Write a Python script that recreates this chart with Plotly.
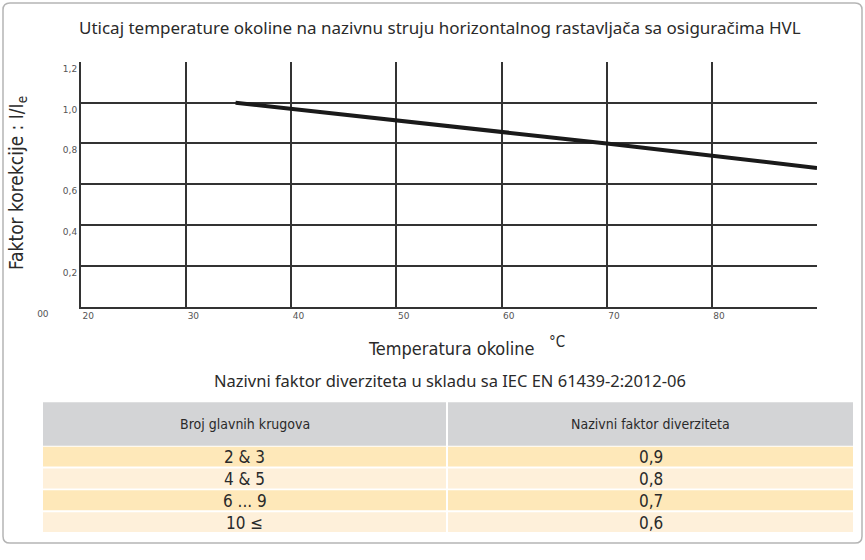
import plotly.graph_objects as go

# ---- data ----
temperature = [34.7, 70, 90]
factor = [1.0, 0.8, 0.68]

x_ticks = [20, 30, 40, 50, 60, 70, 80]
x_tick_labels = ["20", "30", "40", "50", "60", "70", "80"]
y_ticks = [0, 0.2, 0.4, 0.6, 0.8, 1.0, 1.2]
y_tick_labels = ["00" + "\u00a0" * 10, "0,2", "0,4", "0,6", "0,8", "1,0", "1,2"]

table_header = ["Broj glavnih krugova", "Nazivni faktor diverziteta"]
circuits = ["2 & 3", "4 & 5", "6 ... 9", "10 ≤"]
diversity = ["0,9", "0,8", "0,7", "0,6"]

title = "Uticaj temperature okoline na nazivnu struju horizontalnog rastavljača sa osiguračima HVL"
table_title = "Nazivni faktor diverziteta u skladu sa IEC EN 61439-2:2012-06"

W, H = 865, 560
COND = "Liberation Sans Narrow, DejaVu Sans Condensed, Roboto, sans-serif"
TXT = "#2a2a2a"


def px(x):
    return x / W


def py(y):
    return 1 - y / H


fig = go.Figure()
fig.add_trace(go.Scatter(
    x=temperature, y=factor, mode="lines",
    line=dict(color="#1a1a1a", width=4), showlegend=False, hoverinfo="skip",
))

grid = dict(showgrid=True, gridcolor="#333333", gridwidth=2, showline=True,
            linecolor="#333333", linewidth=2, zeroline=False,
            ticks="outside", tickcolor="rgba(0,0,0,0)",
            tickfont=dict(family="DejaVu Sans", size=9, color="#555555"))

fig.update_layout(
    width=W, height=H,
    margin=dict(l=0, r=0, t=0, b=0),
    paper_bgcolor="white", plot_bgcolor="white",
    xaxis=dict(domain=[px(81), px(817)], range=[20, 90], tickvals=x_ticks,
               ticktext=x_tick_labels, ticklabelposition="outside right",
               ticklen=7, fixedrange=True, **grid),
    yaxis=dict(domain=[py(313.3), py(63.3)], range=[0, 1.2], tickvals=y_ticks,
               ticktext=y_tick_labels, ticklabelposition="outside bottom",
               ticklen=3, fixedrange=True, **grid),
    showlegend=False,
)

annotations = [
    dict(text=title, x=px(440), y=py(28), font=dict(family="Noto Sans", size=17, color=TXT)),
    dict(text="Temperatura okoline", x=px(451), y=py(356), font=dict(family=COND, size=18, color=TXT)),
    dict(text="°C", x=px(557), y=py(349), font=dict(family=COND, size=15, color=TXT)),
    dict(text="Faktor korekcije : I/I<sub>e</sub>", x=px(18), y=py(187), textangle=-90,
         font=dict(family=COND, size=19, color=TXT)),
    dict(text=table_title, x=px(450), y=py(389), font=dict(family="Noto Sans", size=16.5, color=TXT)),
]

# ---- table drawn with shapes + text from the lists ----
T_LEFT, T_RIGHT, T_TOP = 43, 853, 411
HEAD_H, ROW_PITCH, GAP = 44.5, 22.3, 2
col_edges = [T_LEFT, (T_LEFT + T_RIGHT) / 2, T_RIGHT]
row_fill = ["#fee8b9", "#fef0da"]

for c, head in enumerate(table_header):
    xa, xb = col_edges[c], col_edges[c + 1] - (GAP if c == 0 else 0)
    fig.add_shape(type="rect", xref="paper", yref="paper", x0=px(xa), x1=px(xb),
                  y0=py(T_TOP + HEAD_H), y1=py(T_TOP), fillcolor="#d3d4d6",
                  line=dict(width=0), layer="below")
    annotations.append(dict(text=head, x=px((xa + xb) / 2), y=py(T_TOP + HEAD_H / 2),
                            font=dict(family=COND, size=14, color=TXT)))

for r, (a_val, b_val) in enumerate(zip(circuits, diversity)):
    ya = T_TOP + HEAD_H + GAP / 2 + r * ROW_PITCH
    yb = ya + ROW_PITCH - GAP
    for c, val in enumerate([a_val, b_val]):
        xa, xb = col_edges[c], col_edges[c + 1] - (GAP if c == 0 else 0)
        fig.add_shape(type="rect", xref="paper", yref="paper", x0=px(xa), x1=px(xb),
                      y0=py(yb), y1=py(ya), fillcolor=row_fill[r % 2],
                      line=dict(width=0), layer="below")
        annotations.append(dict(text=val, x=px((xa + xb) / 2), y=py((ya + yb) / 2 + 0.5),
                                font=dict(family=COND, size=17, color=TXT)))

for a in annotations:
    a.update(xref="paper", yref="paper", showarrow=False, xanchor="center", yanchor="middle")
    fig.add_annotation(**a)

# rounded frame
rad = 7
x0, y0, x1, y1 = 3, 3, 862, 555
path = (f"M {px(x0 + rad)} {py(y0)} L {px(x1 - rad)} {py(y0)} "
        f"Q {px(x1)} {py(y0)} {px(x1)} {py(y0 + rad)} L {px(x1)} {py(y1 - rad)} "
        f"Q {px(x1)} {py(y1)} {px(x1 - rad)} {py(y1)} L {px(x0 + rad)} {py(y1)} "
        f"Q {px(x0)} {py(y1)} {px(x0)} {py(y1 - rad)} L {px(x0)} {py(y0 + rad)} "
        f"Q {px(x0)} {py(y0)} {px(x0 + rad)} {py(y0)} Z")
fig.add_shape(type="path", path=path, xref="paper", yref="paper",
              line=dict(color="#b5b5b5", width=1.5), layer="below")

fig.write_html("out.html", config={"displayModeBar": False},
               post_script="document.body.style.margin='0';")
